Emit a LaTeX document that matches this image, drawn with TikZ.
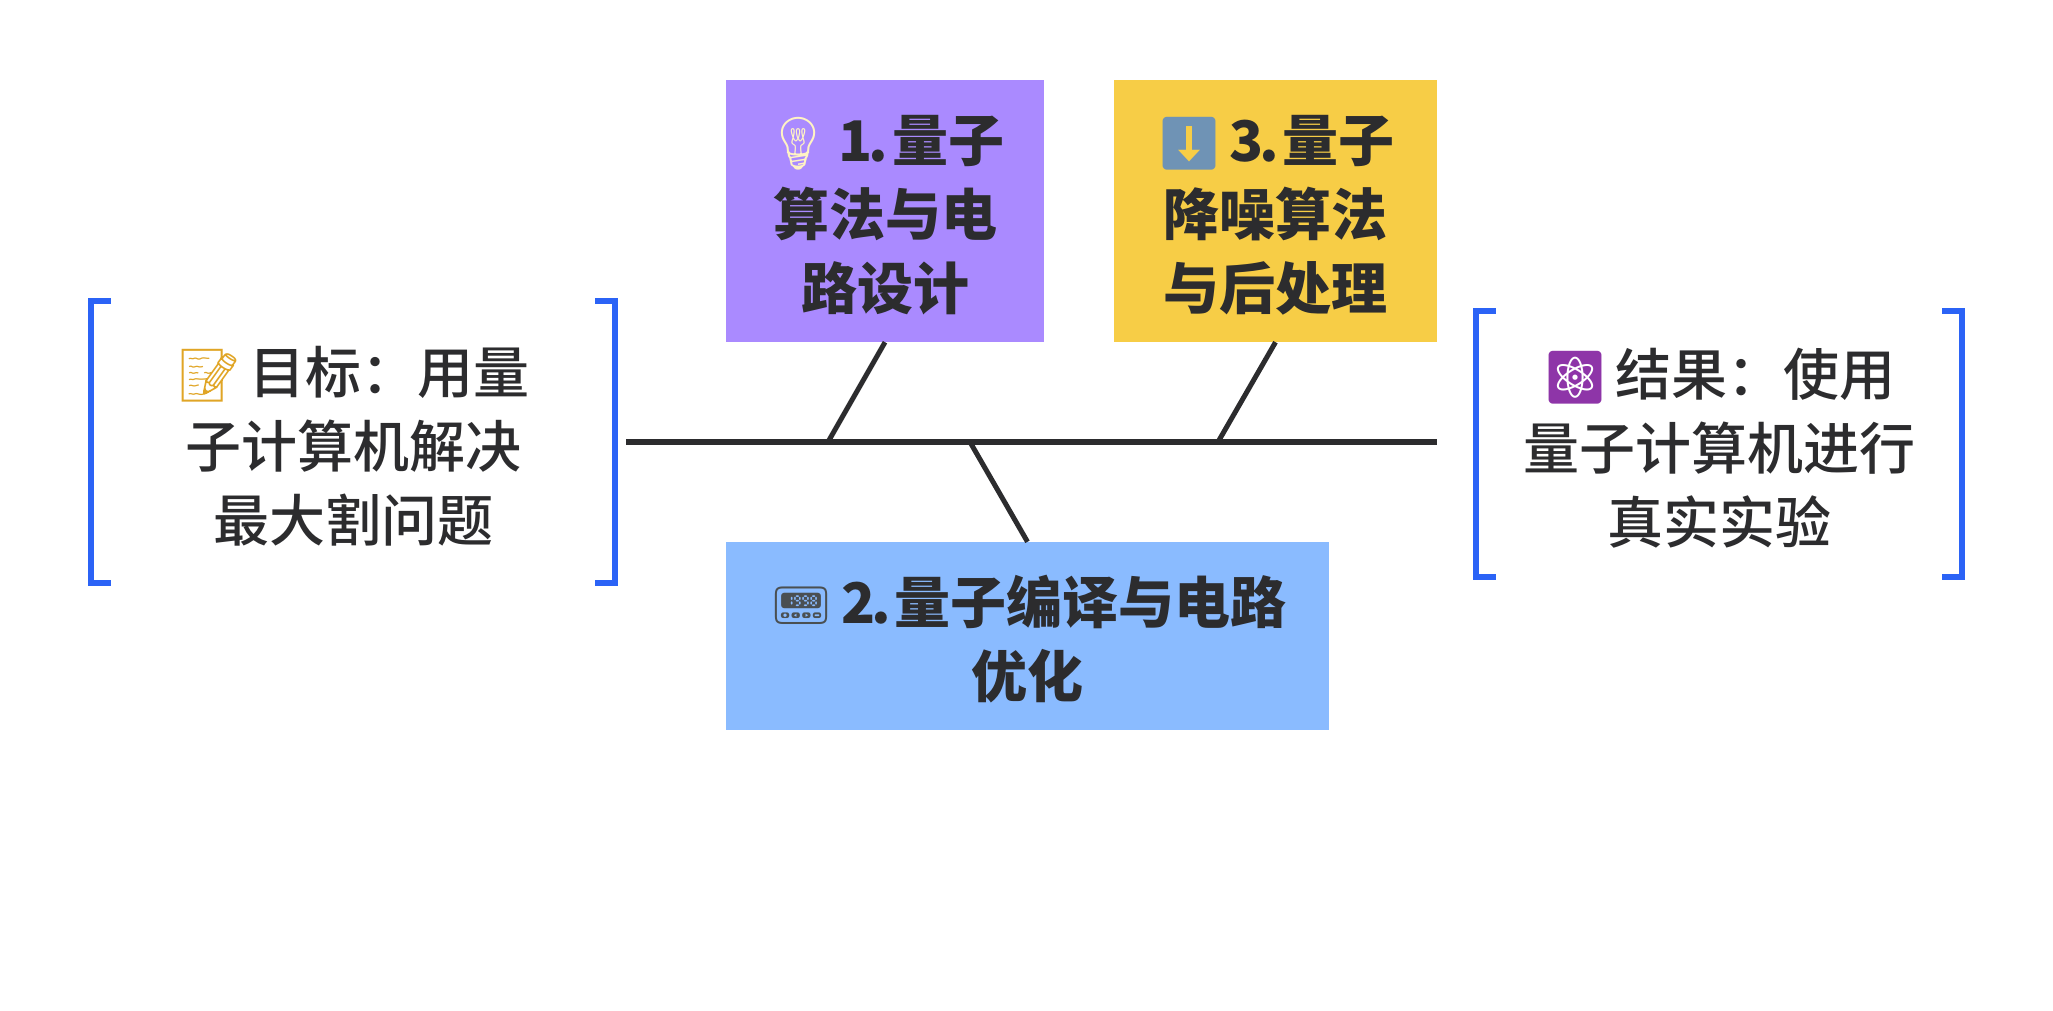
\documentclass[tikz,border=0pt]{standalone}
\usepackage{fontspec}
\newfontfamily\cjk{Noto Sans CJK SC}[UprightFont=* Medium]
\newfontfamily\emojifont{Noto Emoji}
\definecolor{inkgray}{HTML}{2C2C2E}
\definecolor{brackblue}{HTML}{2B63F6}
\definecolor{boxpurple}{HTML}{AA8AFF}
\definecolor{boxyellow}{HTML}{F7CD46}
\definecolor{boxblue}{HTML}{8ABBFF}
\definecolor{emomemo}{HTML}{E0A526}
\definecolor{emobulb}{HTML}{FFF3C4}
\definecolor{emoarrow}{HTML}{6F93B5}
\definecolor{emopager}{HTML}{4A4F52}
\definecolor{emoatom}{HTML}{8E35A8}
\newcommand{\emo}[2]{\rule{0pt}{55pt}{\emojifont\fontsize{52}{74}\selectfont\textcolor{#1}{#2}}\kern7pt}
\newcommand{\num}[1]{#1\kern-4pt.\kern4pt}
\tikzset{
  cause/.style={inner sep=0pt, align=center, text=inkgray, font=\cjk\bfseries\fontsize{56}{74}\selectfont},
  endbox/.style={cause, minimum width=524pt, font=\cjk\fontsize{56}{74}\selectfont},
  bracket/.style={draw=brackblue, line width=6pt, miter limit=10},
  spine/.style={draw=inkgray, line width=6pt},
  bone/.style={draw=inkgray, line width=5pt}
}
\begin{document}
\begin{tikzpicture}[x=1pt,y=-1pt]
    \useasboundingbox (0,0) rectangle (2053,1010);
    % Define os nos
    \node[endbox, minimum height=282pt] (goal) at (353,442) {\emo{emomemo}{📝}目标：用量\\子计算机解决\\最大割问题};
    \node[endbox, minimum width=486pt, minimum height=266pt] (result) at (1719,444) {\emo{emoatom}{⚛}结果：使用\\量子计算机进行\\真实实验};
    \node[cause, fill=boxpurple, minimum width=318pt, minimum height=262pt] (algo) at (885,211) {\emo{emobulb}{💡}\num{1} 量子\\算法与电\\路设计};
    \node[cause, fill=boxyellow, minimum width=323pt, minimum height=262pt] (denoise) at (1275.5,211) {\emo{emoarrow}{⬇}\num{3} 量子\\降噪算法\\与后处理};
    \node[cause, fill=boxblue, minimum width=603pt, minimum height=188pt] (compile) at (1027.5,636) {\emo{emopager}{📟}\num{2} 量子编译与电路\\优化};
    \coordinate (spineL) at (626,442);
    \coordinate (spineR) at (1437,442);
    \coordinate (joinA) at (828,442);
    \coordinate (joinB) at (970,442);
    \coordinate (joinC) at (1218,442);
    % Conecta nos
    \draw[spine] (spineL) -- (spineR);
    \draw[bone] (algo.south) -- (joinA);
    \draw[bone] (compile.north) -- (joinB);
    \draw[bone] (denoise.south) -- (joinC);
    % Colchetes
    \draw[bracket] ([xshift=20pt]goal.north west) -- (goal.north west) -- (goal.south west) -- ([xshift=20pt]goal.south west);
    \draw[bracket] ([xshift=-20pt]goal.north east) -- (goal.north east) -- (goal.south east) -- ([xshift=-20pt]goal.south east);
    \draw[bracket] ([xshift=20pt]result.north west) -- (result.north west) -- (result.south west) -- ([xshift=20pt]result.south west);
    \draw[bracket] ([xshift=-20pt]result.north east) -- (result.north east) -- (result.south east) -- ([xshift=-20pt]result.south east);
\end{tikzpicture}
\end{document}
